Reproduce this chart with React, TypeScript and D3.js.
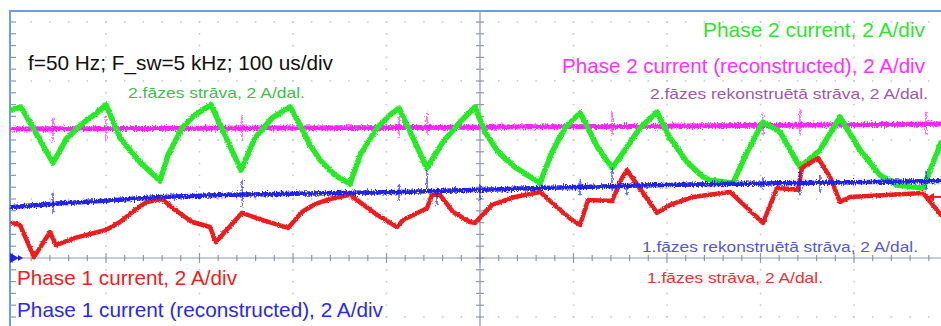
import React from 'react';
import * as d3 from 'd3';

const WIDTH = 941;
const HEIGHT = 326;

// Time axis: 100 µs/div, 10 divisions. Vertical: 2 A/div.
const TIME_RANGE_US: [number, number] = [0, 1000];
const AMP_RANGE: [number, number] = [-2, 8];
const TIME_MAJOR_US = 100;
const TIME_MINOR_US = 20;
const AMP_MAJOR = 2;
const AMP_MINOR = 0.4;

// Phase 2 measured current [time µs, display A]
const phase2Current: [number, number][] = [
  [0, 5.02], [9.1, 5.12], [43.3, 3.22], [58.3, 4.07], [75.4, 4.58], [90.4, 4.92],
  [100, 5.19], [115, 4.07], [136.4, 3.25], [157.8, 2.61], [166.3, 3.49], [181.3, 4.41],
  [195.2, 4.85], [212.3, 5.19], [244.4, 2.98], [259.4, 4.07], [277.6, 4.75], [296.8, 5.12],
  [307.5, 4.51], [318.2, 3.83], [328.9, 3.32], [344.9, 2.81], [361, 2.51], [371.7, 3.49],
  [389.9, 4.41], [403.7, 4.85], [413.4, 5.08], [443.3, 3.05], [460.4, 3.93], [478.6, 4.61],
  [494.7, 5.12], [505.3, 4.27], [519.3, 3.59], [537.4, 3.08], [555.6, 2.71], [564.2, 2.54],
  [577, 3.59], [590.9, 4.41], [607, 4.92], [626.2, 3.73], [641.2, 3.05], [649.7, 3.42],
  [671.1, 4.41], [689.3, 4.95], [703.2, 4.07], [721.4, 3.25], [738.5, 2.75], [746, 2.64],
  [770.6, 2.54], [785.6, 3.59], [802.7, 4.61], [820.9, 4.27], [842.2, 3.08], [863.6, 3.66],
  [885, 4.78], [906.4, 3.66], [927.8, 2.81], [946, 2.47], [973.8, 2.37], [993, 3.9],
];

// Phase 1 measured current [time µs, display A]
const phase1Current: [number, number][] = [
  [0, 1.19], [8, 1.12], [23, 0.03], [40.1, 0.88], [46.5, 0.44], [66.8, 0.68],
  [100, 0.95], [115, 1.22], [131, 1.63], [143.8, 1.9], [159.9, 2.0], [173.8, 1.63],
  [192, 1.22], [211.2, 1.05], [217.6, 0.54], [245.5, 1.53], [266.8, 1.29], [294.7, 1.02],
  [309.6, 1.56], [323.5, 1.83], [339.6, 2.0], [361, 2.14], [389.9, 1.46], [411.2, 1.05],
  [417.6, 1.29], [443.3, 1.69], [448.7, 2.14], [457.2, 2.14], [471.1, 1.56], [489.3, 1.22],
  [494.7, 1.19], [512.8, 1.8], [537.4, 2.07], [564.2, 2.24], [583.4, 1.69], [598.4, 1.29],
  [607, 1.12], [615.5, 1.97], [641.2, 1.93], [651.8, 2.71], [657.2, 2.98], [689.3, 1.53],
  [703.2, 1.8], [727.8, 2.07], [767.4, 2.24], [802.7, 1.19], [817.7, 2.37], [840.1, 2.31],
  [844.4, 3.05], [861.5, 3.39], [874.3, 2.75], [885, 1.9], [895.7, 2.07], [973.8, 2.2],
  [993, 1.46],
];

// Phase 1 reconstructed current [time µs, display A]
const phase1Reconstructed: [number, number][] = [
  [0, 1.73], [40.1, 1.83], [93.6, 1.93], [157.8, 2.07], [232.6, 2.14], [318.2, 2.19],
  [414.4, 2.24], [500, 2.31], [585.6, 2.39], [671.1, 2.46], [756.7, 2.51], [842.2, 2.54],
  [993, 2.61],
];

// Phase 2 reconstructed current [time µs, display A]
const phase2Reconstructed: [number, number][] = [
  [0, 4.37], [307.5, 4.41], [649.7, 4.46], [993, 4.54],
];

// Switching glitches on the reconstructed traces [time µs, high A, low A]
const phase1Glitches: [number, number, number][] = [
  [43.3, 2.2, 1.53], [245.5, 2.64, 1.73], [413.4, 2.47, 1.97], [443.3, 2.98, 2.24],
  [454, 2.31, 1.8], [500, 2.47, 1.97], [607, 2.64, 2.14], [641.2, 3.05, 2.31],
  [657.2, 2.54, 2.14], [802.7, 2.8, 2.31], [842.2, 2.92, 2.14], [863.6, 2.8, 2.24],
  [977, 2.98, 2.31],
];
const phase2Glitches: [number, number, number][] = [
  [43.3, 4.75, 3.93], [100, 4.78, 4.0], [245.5, 4.85, 4.0], [413.4, 4.78, 4.07],
  [443.3, 4.95, 4.17], [641.2, 4.95, 4.17], [802.7, 4.92, 4.17], [842.2, 5.02, 4.17],
  [977, 4.95, 4.17],
];

const COLORS = {
  phase1: '#ee1c1c',
  phase1Rec: '#2020ee',
  phase2: '#26ea26',
  phase2Rec: '#ff22ff',
  frame: '#6c9fe0',
  axis: '#8e98aa',
  dot: '#c2c5ce',
};

const FONT = '"Liberation Sans", Arial, sans-serif';

export default function App() {
  const x = d3.scaleLinear().domain(TIME_RANGE_US).range([12.5, 947.5]);
  const y = d3.scaleLinear().domain(AMP_RANGE).range([317, 22]);
  const line = d3
    .line<[number, number]>()
    .x((d) => x(d[0]))
    .y((d) => y(d[1]));

  const left = x(0) - 2.5;
  const top = 11;

  const majorTimes = d3.range(TIME_RANGE_US[0], TIME_RANGE_US[1] + 1, TIME_MAJOR_US);
  const minorTimes = d3.range(TIME_RANGE_US[0], TIME_RANGE_US[1] + 0.01, TIME_MINOR_US);
  const majorAmps = d3.range(AMP_RANGE[0], AMP_RANGE[1] + 0.01, AMP_MAJOR);
  const minorAmps = d3
    .range(-2.4, 8.41, AMP_MINOR)
    .filter((a) => y(a) > top + 2 && y(a) < HEIGHT);

  const centerT = 500;

  const dots: { cx: number; cy: number }[] = [];
  majorTimes
    .filter((t) => t !== 0 && t !== centerT && t !== 1000)
    .forEach((t) => minorAmps.forEach((a) => dots.push({ cx: x(t), cy: y(a) })));
  majorAmps
    .filter((a) => a !== 0)
    .forEach((a) =>
      minorTimes
        .filter((t) => t > 0 && t < 1000)
        .forEach((t) => dots.push({ cx: x(t), cy: y(a) }))
    );

  const texts = [
    { s: 'f=50 Hz; F_sw=5 kHz; 100 us/div', x: 28, y: 70, w: 305, size: 21, fill: '#111111' },
    { s: '2.fāzes strāva, 2 A/dal.', x: 128, y: 98, w: 177, size: 15, fill: '#3cbf4a' },
    { s: 'Phase 2 current, 2 A/div', x: 703, y: 37, w: 222, size: 21, fill: '#2de62d' },
    { s: 'Phase 2 current (reconstructed), 2 A/div', x: 562, y: 73, w: 363, size: 21, fill: '#ff30ff' },
    { s: '2.fāzes rekonstruētā strāva, 2 A/dal.', x: 650, y: 99, w: 278, size: 15, fill: '#9c5aa8' },
    { s: '1.fāzes rekonstruētā strāva, 2 A/dal.', x: 642, y: 252, w: 276, size: 15, fill: '#5656d8' },
    { s: '1.fāzes strāva, 2 A/dal.', x: 647, y: 283, w: 176, size: 15, fill: '#ee3030' },
    { s: 'Phase 1 current, 2 A/div', x: 17, y: 285, w: 220, size: 21, fill: '#ee2020' },
    { s: 'Phase 1 current (reconstructed), 2 A/div', x: 17, y: 317, w: 366, size: 21, fill: '#2a2ae8' },
  ];

  const gY = y(0);
  const markerY = y(phase1Current[phase1Current.length - 3][1]);

  return (
    <svg
      width={WIDTH}
      height={HEIGHT}
      viewBox={`0 0 ${WIDTH} ${HEIGHT}`}
      style={{ position: 'absolute', left: 0, top: 0, background: '#ffffff' }}
    >
      <defs>
        <filter id="fuzzHeavy" filterUnits="userSpaceOnUse" x="0" y="0" width={WIDTH} height={HEIGHT}>
          <feTurbulence type="fractalNoise" baseFrequency="0.9 0.5" numOctaves="2" seed="7" result="n" />
          <feDisplacementMap in="SourceGraphic" in2="n" scale="6" xChannelSelector="R" yChannelSelector="G" />
        </filter>
        <filter id="fuzzLight" filterUnits="userSpaceOnUse" x="0" y="0" width={WIDTH} height={HEIGHT}>
          <feTurbulence type="fractalNoise" baseFrequency="0.8" numOctaves="1" seed="3" result="n" />
          <feDisplacementMap in="SourceGraphic" in2="n" scale="3" xChannelSelector="R" yChannelSelector="G" />
        </filter>
      </defs>

      <rect x={0} y={0} width={WIDTH} height={HEIGHT} fill="#ffffff" />

      {/* graticule dots */}
      <g fill={COLORS.dot}>
        {dots.map((d, i) => (
          <rect key={i} x={d.cx - 0.75} y={d.cy - 0.75} width={1.5} height={1.5} />
        ))}
      </g>

      {/* center axes with minor ticks */}
      <g stroke={COLORS.axis} strokeWidth={1.2}>
        <line x1={x(centerT)} x2={x(centerT)} y1={top} y2={HEIGHT} />
        <line x1={left} x2={WIDTH} y1={gY} y2={gY} />
        {minorAmps.map((a, i) => (
          <line key={`va${i}`} x1={x(centerT) - 4} x2={x(centerT) + 4} y1={y(a)} y2={y(a)} />
        ))}
        {minorTimes.map((t, i) => {
          const major = t % TIME_MAJOR_US === 0;
          return (
            <line
              key={`ha${i}`}
              x1={x(t)}
              x2={x(t)}
              y1={gY - (major ? 5 : 3)}
              y2={gY + (major ? 5 : 3)}
            />
          );
        })}
        {minorAmps.map((a, i) => (
          <line key={`lt${i}`} x1={left} x2={left + 6} y1={y(a)} y2={y(a)} />
        ))}
      </g>

      {/* screen frame */}
      <g stroke={COLORS.frame} strokeWidth={2} fill="none">
        <line x1={left - 1} x2={WIDTH} y1={top} y2={top} />
        <line x1={left} x2={left} y1={top} y2={HEIGHT} />
      </g>

      {/* traces */}
      <g fill="none" strokeLinejoin="round" strokeLinecap="round">
        <g filter="url(#fuzzHeavy)">
          <path d={line(phase2Reconstructed) ?? ''} stroke={COLORS.phase2Rec} strokeWidth={5} />
          {phase2Glitches.map(([t, hi, lo], i) => (
            <line key={i} x1={x(t)} x2={x(t)} y1={y(hi)} y2={y(lo)} stroke={COLORS.phase2Rec} strokeWidth={1.2} />
          ))}
        </g>
        <g filter="url(#fuzzLight)">
          <path d={line(phase2Current) ?? ''} stroke={COLORS.phase2} strokeWidth={5.5} />
          <path d={line(phase1Current) ?? ''} stroke={COLORS.phase1} strokeWidth={4.5} />
        </g>
        <g filter="url(#fuzzHeavy)">
          <path d={line(phase1Reconstructed) ?? ''} stroke={COLORS.phase1Rec} strokeWidth={4.5} />
          {phase1Glitches.map(([t, hi, lo], i) => (
            <line key={i} x1={x(t)} x2={x(t)} y1={y(hi)} y2={y(lo)} stroke={COLORS.phase1Rec} strokeWidth={1.2} />
          ))}
        </g>
      </g>

      {/* channel reference markers */}
      <g>
        <path d={`M${left},${gY - 5} L${left + 9},${gY} L${left},${gY + 5} Z`} fill={COLORS.phase1Rec} />
        <path d={`M${left + 8},${gY - 3} L${left + 13},${gY} L${left + 8},${gY + 3} Z`} fill={COLORS.phase1Rec} />
        <path
          d={`M${WIDTH - 14},${markerY} L${WIDTH - 7},${markerY - 4} L${WIDTH - 7},${markerY + 4} Z`}
          fill={COLORS.phase1}
        />
        <line x1={WIDTH - 7} x2={WIDTH} y1={markerY} y2={markerY} stroke={COLORS.phase1} strokeWidth={2} />
      </g>

      {/* labels */}
      <g fontFamily={FONT}>
        {texts.map((t, i) => (
          <text
            key={i}
            x={t.x}
            y={t.y}
            fontSize={t.size}
            fill={t.fill}
            textLength={t.w}
            lengthAdjust="spacingAndGlyphs"
          >
            {t.s}
          </text>
        ))}
      </g>
    </svg>
  );
}
